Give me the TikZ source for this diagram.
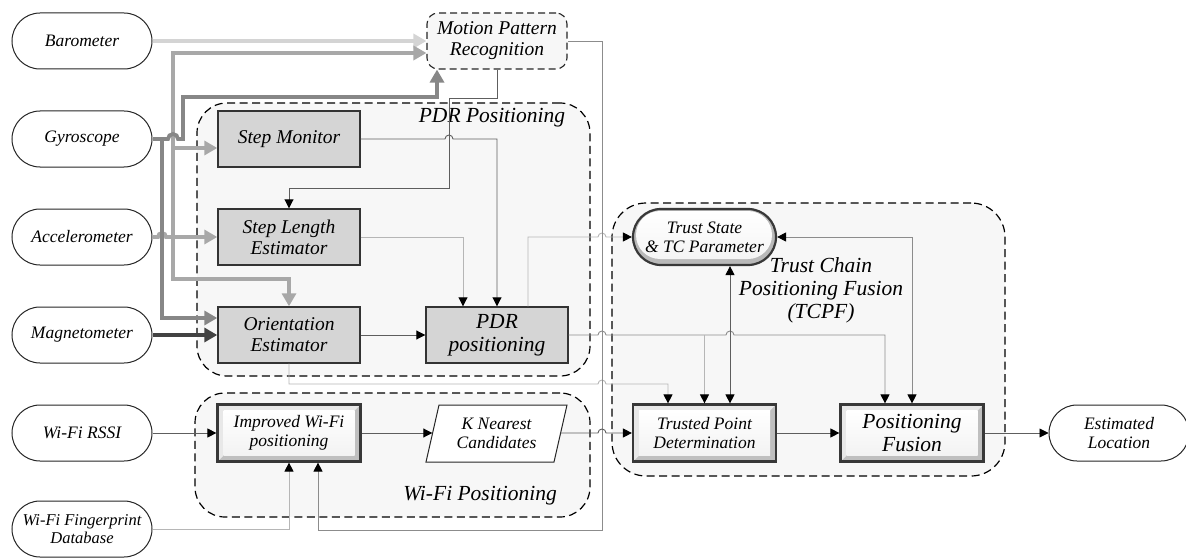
\documentclass[tikz,border=0pt]{standalone}
\usepackage{fontspec}
\setmainfont{Liberation Serif}
\usetikzlibrary{arrows.meta}

\definecolor{grpfill}{HTML}{F7F7F7}
\definecolor{boxgray}{HTML}{D5D5D5}
\definecolor{baroline}{HTML}{D4D4D4}
\definecolor{accline}{HTML}{A8A8A8}
\definecolor{gyroline}{HTML}{878787}
\definecolor{magline}{HTML}{424242}
\definecolor{darkthin}{HTML}{5E5E5E}
\definecolor{midthin}{HTML}{8C8C8C}
\definecolor{lightthin}{HTML}{B6B6B6}

\newcommand\txtXS{\fontsize{16.5}{18}\selectfont\itshape}
\newcommand\txtS{\fontsize{17.5}{19}\selectfont\itshape}
\newcommand\txtM{\fontsize{19.5}{21}\selectfont\itshape}
\newcommand\txtL{\fontsize{21.5}{23}\selectfont\itshape}

\tikzset{
  sensor/.style={draw=black!85, line width=1pt, fill=white, rounded corners=28pt,
    minimum width=140pt, minimum height=56pt, inner sep=0pt, align=center, font=\txtS},
  stage/.style={draw=black!80, line width=1.4pt, fill=boxgray,
    minimum width=142pt, minimum height=56pt, inner sep=0pt, align=center, font=\txtM},
  bevelbox/.style={draw=black!78, line width=2.2pt,
    minimum width=143pt, minimum height=57pt, inner sep=0pt, align=center, font=\txtS,
    path picture={
      \fill[gray!50] (path picture bounding box.south west) rectangle (path picture bounding box.north east);
      \fill[gray!18] (path picture bounding box.south west) -- (path picture bounding box.north west)
        -- (path picture bounding box.north east) -- ([shift={(-6pt,-6pt)}]path picture bounding box.north east)
        -- ([shift={(6pt,-6pt)}]path picture bounding box.north west) -- ([shift={(6pt,6pt)}]path picture bounding box.south west) -- cycle;
      \shade[top color=white, bottom color=gray!10] ([shift={(6pt,-6pt)}]path picture bounding box.north west)
        rectangle ([shift={(-6pt,6pt)}]path picture bounding box.south east);
    }},
  statebox/.style={draw=black!78, line width=2.2pt, rounded corners=28pt,
    minimum width=143pt, minimum height=56pt, inner sep=0pt, align=center, font=\txtS,
    path picture={
      \fill[gray!55] (path picture bounding box.south west) rectangle (path picture bounding box.north east);
      \shade[top color=white, bottom color=gray!8, rounded corners=24pt]
        ([shift={(3pt,-2pt)}]path picture bounding box.north west)
        rectangle ([shift={(-4pt,6pt)}]path picture bounding box.south east);
    }},
  dashbox/.style={draw=black!85, line width=1.1pt, dash pattern=on 7pt off 4pt, fill=grpfill,
    rounded corners=11pt, minimum width=140pt, minimum height=56pt, inner sep=0pt, align=center, font=\txtM},
  group/.style={draw=black, line width=1.2pt, dash pattern=on 8pt off 4.5pt, fill=grpfill,
    rounded corners=30pt, inner sep=0pt},
  grouplabel/.style={font=\txtL, align=center, inner sep=0pt},
  busline/.style={line width=3.8pt},
  bus/.style={busline, -{Triangle[length=13pt,width=14pt]}},
  flow/.style={line width=0.9pt, draw=darkthin, -{Triangle[length=9pt,width=9pt,color=black]}},
  flowmid/.style={flow, draw=midthin},
  flowlight/.style={flow, draw=lightthin},
  twoway/.style={line width=0.9pt, draw=darkthin,
    {Triangle[length=9pt,width=9pt,color=black]}-{Triangle[length=9pt,width=9pt,color=black]}},
}

\begin{document}
\begin{tikzpicture}[x=1pt, y=-1pt]
\useasboundingbox (0,0) rectangle (1186,559);

% groups
\node[group, minimum width=393pt, minimum height=273pt] (pdrgrp) at (393.5,239.5) {};
\node[group, minimum width=395pt, minimum height=124pt] (wifigrp) at (392.5,455) {};
\node[group, minimum width=393pt, minimum height=273pt, rounded corners=34pt] (tcpfgrp) at (808.5,339.5) {};

\node[grouplabel] (pdrlbl) at (492,118) {PDR Positioning};
\node[grouplabel] (wifilbl) at (480,496) {Wi-Fi Positioning};
\node[grouplabel] (tcpflbl) at (821,290) {Trust Chain\\Positioning Fusion\\(TCPF)};

% sensors and inputs
\node[sensor] (baro) at (82,41) {Barometer};
\node[sensor] (gyro) at (82,139) {Gyroscope};
\node[sensor] (acc) at (82,237) {Accelerometer};
\node[sensor] (mag) at (82,335) {Magnetometer};
\node[sensor] (rssi) at (82,433) {Wi-Fi RSSI};
\node[sensor, font=\txtXS] (fpdb) at (82,529) {Wi-Fi Fingerprint\\Database};

\node[dashbox] (mpr) at (497,41) {Motion Pattern\\Recognition};

% PDR stages
\node[stage] (sm) at (289,139) {Step Monitor};
\node[stage] (sle) at (289,237) {Step Length\\Estimator};
\node[stage] (oe) at (289,335) {Orientation\\Estimator};
\node[stage, font=\txtL] (pdr) at (497,335) {PDR\\positioning};

% Wi-Fi stages
\node[bevelbox] (iw) at (289,433) {Improved Wi-Fi\\positioning};
\filldraw[fill=white, draw=black!85, line width=1pt] (439,405) -- (567,405) -- (554,462) -- (426,462) -- cycle;
\node[minimum width=141pt, minimum height=57pt, inner sep=0pt, align=center, font=\txtS] (knc) at (496.5,433) {K Nearest\\Candidates};

% fusion stages
\node[statebox] (ts) at (704.5,237) {Trust State\\\& TC Parameter};
\node[bevelbox] (tpd) at (704.5,433) {Trusted Point\\Determination};
\node[bevelbox, font=\txtL] (pf) at (912,433) {Positioning\\Fusion};
\node[sensor] (est) at (1119,433) {Estimated\\Location};

% sensor buses
\coordinate (gyj) at (162,139);
\coordinate (accj) at (173,237);
\coordinate (accsm) at (173,148);

\draw[bus, baroline] (baro.east) -- (baro.east -| mpr.west);

\draw[busline, accline] (acc.east) -- (158,237) arc[start angle=180, end angle=0, radius=4pt] -- (accj);
\draw[bus, accline] (accj) -- (sle.west);
\draw[bus, accline] (accj) -- (173,53) -- ([yshift=-12pt]mpr.west);
\draw[bus, accline] (accsm) -- ([yshift=-9pt]sm.west);
\draw[bus, accline] (accj) -- (173,279) -- (289,279) -- (oe.north);

\draw[busline, gyroline] (gyro.east) -- (gyj);
\draw[bus, gyroline] (gyj) -- (162,318) -- ([yshift=17pt]oe.west);
\draw[bus, gyroline] (gyj) -- (168,139) arc[start angle=180, end angle=0, radius=5pt] -- (183,139)
  -- (183,97) -- (437,97) -- ([xshift=-60pt]mpr.south);

\draw[bus, magline] (mag.east) -- (oe.west);

% PDR internal flows
\draw[flow] (mpr.south) -- (497,98) -- (449,98) -- (449,188) -- (289,188) -- (sle.north);
\draw[flow] (sm.east) -- (445,139) arc[start angle=180, end angle=0, radius=4pt] -- (sm.east -| pdr.north) -- (pdr.north);
\draw[flowlight] (sle.east) -- (463,237) -- ([xshift=-34pt]pdr.north);
\draw[flow] (oe.east) -- (pdr.west);

% towards the fusion block
\draw[flowlight] ([xshift=31pt]pdr.north) -- (528,237) -- (598,237) arc[start angle=180, end angle=0, radius=4pt] -- (ts.west);
\draw[flowmid] (pdr.east) -- (598,335) arc[start angle=180, end angle=0, radius=4pt]
  -- (726,335) arc[start angle=180, end angle=0, radius=4pt] -- (885,335) -- ([xshift=-27pt]pf.north);
\coordinate (pdrtap) at (704.5,335);
\draw[flowlight] (pdrtap) -- (tpd.north);
\draw[flowlight] (oe.south) -- (289,384) -- (598,384) arc[start angle=180, end angle=0, radius=4pt]
  -- (668,384) -- ([xshift=-36.5pt]tpd.north);
\draw[twoway] ([xshift=25.5pt]ts.south) -- ([xshift=25.5pt]tpd.north);
\draw[twoway, draw=midthin] (ts.east) -- (912,237) -- (pf.north);

% motion pattern feedback to Wi-Fi
\draw[flowmid] (mpr.east) -- (602,41) -- (602,530) -- (318,530) -- ([xshift=29pt]iw.south);

% Wi-Fi chain
\draw[flowlight] (fpdb.east) -- (289,529) -- (iw.south);
\draw[flow] (rssi.east) -- (iw.west);
\draw[flow] (iw.east) -- ([xshift=6.5pt]knc.west);
\draw[flow] ([xshift=-6.5pt]knc.east) -- (598,433) arc[start angle=180, end angle=0, radius=4pt] -- (tpd.west);
\draw[flow] (tpd.east) -- (pf.west);
\draw[flow] (pf.east) -- (est.west);
\end{tikzpicture}
\end{document}
